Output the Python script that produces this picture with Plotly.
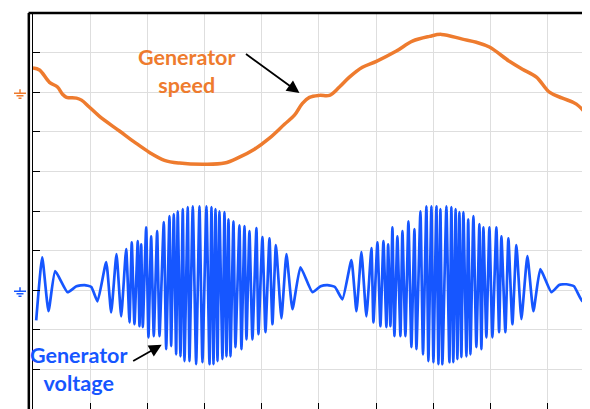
import plotly.graph_objects as go

# ---- Data (time in ms, 10 ms / div; amplitudes in screen divisions relative to each trace's ground) ----
speed_t = [0, 1.14, 2.88, 4.28, 5.16, 5.86, 7.60, 8.48, 9.88, 11.63,
           15.12, 17.74, 20.37, 22.99, 25.61, 29.98, 33.48, 36.10, 38.72, 41.35,
           43.97, 45.72, 47.12, 48.34, 50.09, 51.84, 53.58, 55.33, 57.60, 60.05,
           63.55, 66.35, 69.32, 71.42, 75.09, 77.53, 79.81, 83.30, 85.58, 88.03,
           90.30, 92.57, 95.02, 97.29, 98.5]
speed_v = [0.61, 0.56, 0.25, 0.13, -0.05, -0.13, -0.15, -0.20, -0.38, -0.61,
           -0.98, -1.26, -1.52, -1.72, -1.79, -1.82, -1.79, -1.64, -1.44, -1.16,
           -0.81, -0.58, -0.28, -0.13, -0.08, -0.08, 0.13, 0.38, 0.63, 0.78,
           1.04, 1.29, 1.41, 1.46, 1.34, 1.26, 1.14, 0.78, 0.58, 0.38,
           0.00, -0.15, -0.30, -0.63, -0.8]

lead_t = [0.56, 1.61, 2.71, 3.88, 6.03, 7.60, 9.00, 10.20, 11.28, 12.80, 13.67, 14.60, 15.42, 16.29]
lead_v = [-0.76, 0.83, -0.53, 0.48, -0.05, 0.10, 0.13, 0.08, -0.28, 0.71, -0.56, 0.91, -0.66, 1.04]

burst1a_t = [16.87, 17.27, 17.74, 18.32, 18.62, 18.92, 19.20, 19.79, 20.19, 20.66,
             21.12, 21.71, 22.12, 22.87, 23.29, 23.86, 24.16, 24.62, 25.03, 25.31,
             25.79, 26.19, 26.49, 27.06, 27.36, 27.94, 28.53, 29.11]
burst1a_v = [-0.81, 1.21, -0.86, 1.24, -0.91, 1.16, -0.93, 1.59, -1.19, 1.36,
             -1.16, 1.49, -1.16, 1.72, -1.49, 1.87, -1.41, 1.92, -1.62, 1.99,
             -1.67, 2.05, -1.79, 2.10, -1.79, 2.12, -1.87, 2.12]

burst1b_t = [29.63, 30.33, 30.86, 31.21, 31.56, 31.91, 32.26, 32.60, 33.13, 33.48,
             33.83, 34.18, 34.53, 35.05, 35.40, 36.10, 36.45, 36.98, 37.33, 37.85,
             38.37, 39.07, 39.42, 40.12, 40.65, 41.35, 41.87, 42.48]
burst1b_v = [-1.82, 2.12, -1.87, 2.10, -1.87, 2.05, -1.79, 1.99, -1.74, 1.97,
             -1.67, 1.79, -1.67, 1.74, -1.44, 1.64, -1.49, 1.62, -1.24, 1.49,
             -1.24, 1.57, -1.11, 1.34, -1.06, 1.31, -0.86, 1.14]

gap_t = [43.44, 44.32, 45.37, 46.77, 48.86, 50.30, 51.50, 52.80, 54.11, 55.68, 56.56, 57.43, 58.30, 59.18]
gap_v = [-0.71, 0.91, -0.48, 0.58, -0.05, 0.10, 0.13, 0.08, -0.23, 0.76, -0.53, 0.96, -0.66, 1.06]

burst2a_t = [59.53, 60.23, 60.75, 61.28, 61.80, 62.10, 62.50, 62.85, 63.20, 63.72,
             64.25, 64.60, 65.12, 65.65, 66.17, 66.70, 67.05, 67.75, 68.20, 68.79,
             69.14, 69.67, 70.02, 70.54, 70.90, 71.24, 71.59]
burst2a_v = [-0.81, 1.21, -0.91, 1.24, -0.93, 1.16, -0.91, 1.59, -1.16, 1.36,
             -1.16, 1.49, -1.16, 1.74, -1.44, 1.54, -1.49, 1.99, -1.62, 2.12,
             -1.79, 2.12, -1.82, 2.12, -1.87, 2.05, -1.87]

burst2b_t = [72.29, 72.81, 73.16, 73.50, 73.90, 74.21, 74.56, 74.91, 75.26, 75.79,
             76.10, 76.49, 77.01, 77.53, 78.06, 78.41, 78.76, 79.28, 79.81, 80.33,
             81.03, 81.50, 81.91, 82.60, 83.13, 83.83, 84.53]
burst2b_v = [2.12, -1.82, 2.10, -1.82, 2.05, -1.74, 1.97, -1.69, 1.97, -1.67,
             1.79, -1.62, 1.87, -1.44, 1.67, -1.49, 1.59, -1.19, 1.59, -1.19,
             1.59, -1.06, 1.36, -1.06, 1.31, -0.86, 1.14]

tail_t = [85.40, 86.45, 87.50, 88.72, 90.65, 92.00, 93.27, 94.60, 96.07, 97.29, 98.2]
tail_v = [-0.73, 0.86, -0.53, 0.53, -0.05, 0.13, 0.15, 0.10, -0.28, 0.71, 1.0]

SPEED_GROUND = 8.0    # trace ground level (div)
VOLT_GROUND = 3.0

ORANGE = "#EE7B2E"
BLUE = "#1656FF"

volt_t = lead_t + burst1a_t + burst1b_t + gap_t + burst2a_t + burst2b_t + tail_t
volt_v = lead_v + burst1a_v + burst1b_v + gap_v + burst2a_v + burst2b_v + tail_v

fig = go.Figure()
fig.add_trace(go.Scatter(x=volt_t, y=[v + VOLT_GROUND for v in volt_v], mode="lines",
                         line=dict(color=BLUE, width=2.7, shape="spline", smoothing=0.45),
                         hoverinfo="skip", showlegend=False))
fig.add_trace(go.Scatter(x=speed_t, y=[v + SPEED_GROUND for v in speed_v], mode="lines",
                         line=dict(color=ORANGE, width=3.5, shape="spline", smoothing=1.0),
                         hoverinfo="skip", showlegend=False))

font_family = "Lato, Open Sans, sans-serif"
fig.add_annotation(x=27.0, y=8.54, xref="x", yref="y", text="<b>Generator<br>speed</b>",
                   showarrow=False, font=dict(family=font_family, size=21.5, color=ORANGE))
fig.add_annotation(x=46.6, y=7.98, xref="x", yref="y", ax=-55, ay=-40, text="",
                   showarrow=True, arrowhead=2, arrowsize=1.4, arrowwidth=1.8, arrowcolor="black")
fig.add_annotation(x=8.1, y=1.01, xref="x", yref="y", text="<b>Generator<br>voltage</b>",
                   showarrow=False, font=dict(family=font_family, size=21.5, color=BLUE))
fig.add_annotation(x=22.5, y=1.62, xref="x", yref="y", ax=-30, ay=17, text="",
                   showarrow=True, arrowhead=2, arrowsize=1.4, arrowwidth=1.8, arrowcolor="black")

# ground-level markers left of the axis
def ground_marker(level, color):
    path = ("M -13 3 L -13 -1 M -19 -1 L -7 -1 "
            "M -16.5 -3.5 L -9.5 -3.5 M -14.5 -6 L -11.5 -6")
    fig.add_shape(type="path", path=path, xref="paper", yref="y",
                  xsizemode="pixel", ysizemode="pixel", xanchor=0, yanchor=level,
                  line=dict(color=color, width=1.5))

ground_marker(SPEED_GROUND, ORANGE)
ground_marker(VOLT_GROUND, BLUE)

# outer frame: thick top and left border
fig.add_shape(type="line", xref="paper", yref="paper", x0=-0.008, x1=1.02, y0=1.0, y1=1.0,
              line=dict(color="black", width=2.5))
fig.add_shape(type="line", xref="paper", yref="paper", x0=-0.0075, x1=-0.0075, y0=0, y1=1.0,
              line=dict(color="black", width=2.5))

fig.update_xaxes(range=[0, 97.4], dtick=10, tick0=0, showgrid=True, gridcolor="#dedede", gridwidth=1.2,
                 zeroline=False, showticklabels=False, ticks="inside", ticklen=6, tickcolor="black",
                 tickwidth=1.2, showline=False)
fig.update_yaxes(range=[0, 10], dtick=1, tick0=0, showgrid=True, gridcolor="#dedede", gridwidth=1.2,
                 zeroline=False, showticklabels=False, ticks="inside", ticklen=7, tickcolor="black",
                 tickwidth=1.3, showline=True, linecolor="black", linewidth=1.3)

fig.update_layout(width=590, height=409, margin=dict(l=25, r=8, t=5, b=8),
                  plot_bgcolor="white", paper_bgcolor="white")

fig.write_html("out.html")
